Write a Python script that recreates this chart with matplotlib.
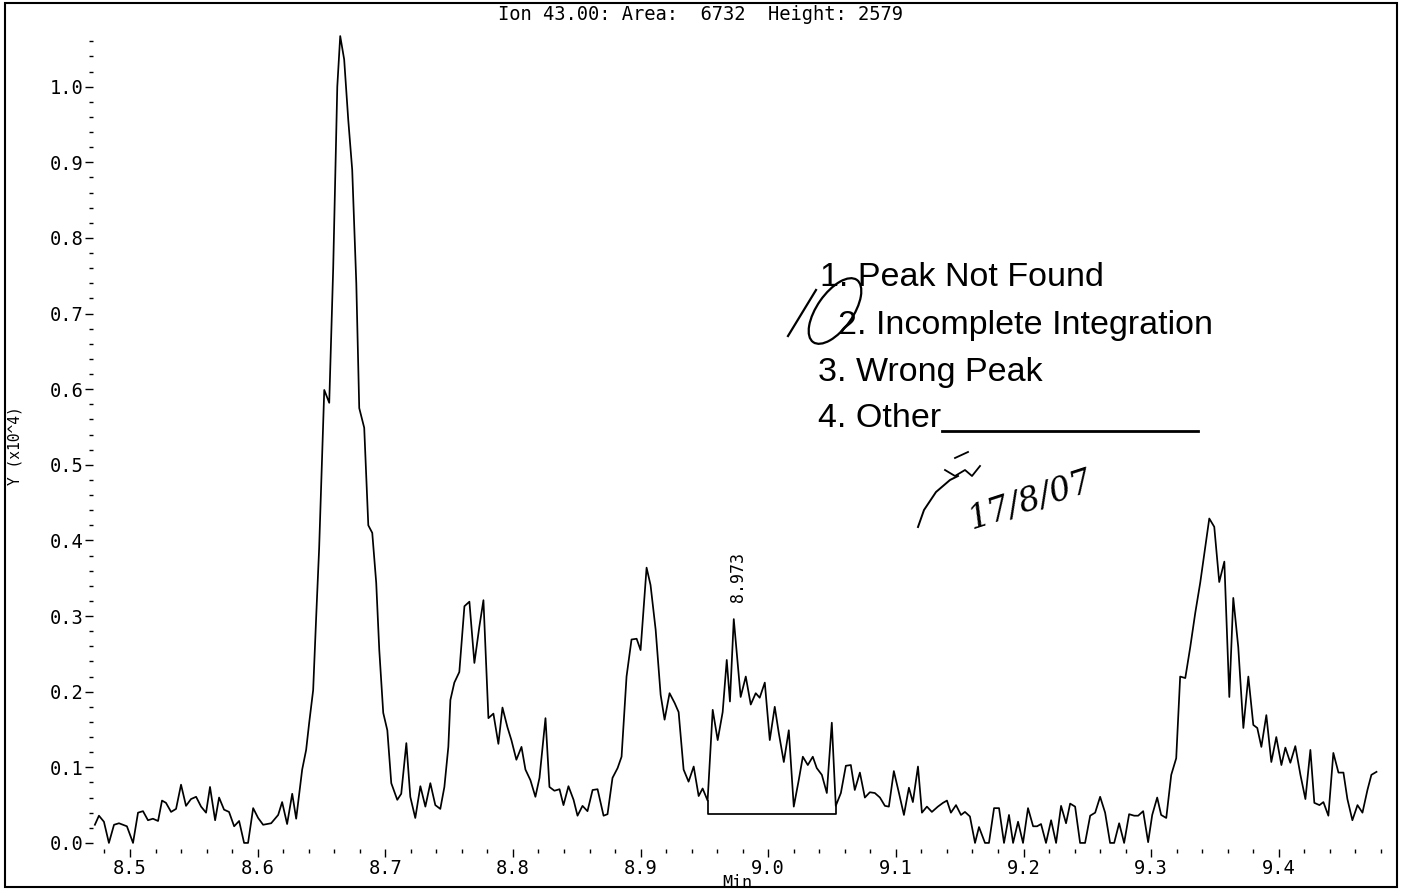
import matplotlib
matplotlib.use("Agg")
import matplotlib.pyplot as plt
from matplotlib.patches import Ellipse, Rectangle
from matplotlib.ticker import MultipleLocator, FormatStrFormatter

# retention time (min) and abundance (x10^4)
times = [
    8.4725, 8.4757, 8.4796, 8.4835, 8.4875, 8.4914, 8.4976, 8.5024, 8.5063, 8.5102,
    8.5141, 8.5180, 8.5220, 8.5251, 8.5282, 8.5322, 8.5361, 8.5400, 8.5439, 8.5478,
    8.5518, 8.5557, 8.5596, 8.5627, 8.5667, 8.5698, 8.5737, 8.5776, 8.5816, 8.5855,
    8.5894, 8.5925, 8.5965, 8.6004, 8.6043, 8.6106, 8.6161, 8.6192, 8.6231, 8.6271,
    8.6302, 8.6349, 8.6380, 8.6404, 8.6435, 8.6459, 8.6482, 8.6522, 8.6561, 8.6592,
    8.6624, 8.6647, 8.6678, 8.6710, 8.6741, 8.6773, 8.6796, 8.6835, 8.6867, 8.6898,
    8.6929, 8.6953, 8.6984, 8.7016, 8.7047, 8.7094, 8.7125, 8.7165, 8.7196, 8.7235,
    8.7275, 8.7314, 8.7353, 8.7392, 8.7431, 8.7463, 8.7494, 8.7510, 8.7541, 8.7580,
    8.7620, 8.7659, 8.7698, 8.7737, 8.7769, 8.7808, 8.7847, 8.7886, 8.7918, 8.7957,
    8.7988, 8.8027, 8.8067, 8.8098, 8.8137, 8.8176, 8.8208, 8.8255, 8.8286, 8.8325,
    8.8365, 8.8396, 8.8435, 8.8475, 8.8506, 8.8545, 8.8584, 8.8624, 8.8663, 8.8710,
    8.8741, 8.8780, 8.8820, 8.8851, 8.8890, 8.8929, 8.8969, 8.9000, 8.9047, 8.9078,
    8.9118, 8.9157, 8.9188, 8.9227, 8.9267, 8.9298, 8.9337, 8.9376, 8.9416, 8.9455,
    8.9486, 8.9525, 8.9565, 8.9604, 8.9643, 8.9675, 8.9700, 8.9730, 8.9784, 8.9824,
    8.9863, 8.9902, 8.9933, 8.9973, 9.0012, 9.0051, 9.0082, 9.0122, 9.0161, 9.0200,
    9.0239, 9.0271, 9.0310, 9.0349, 9.0380, 9.0420, 9.0459, 9.0498, 9.0529, 9.0569,
    9.0608, 9.0647, 9.0678, 9.0718, 9.0757, 9.0796, 9.0835, 9.0875, 9.0914, 9.0945,
    9.0984, 9.1024, 9.1063, 9.1102, 9.1133, 9.1173, 9.1204, 9.1243, 9.1282, 9.1329,
    9.1369, 9.1400, 9.1431, 9.1471, 9.1510, 9.1541, 9.1580, 9.1620, 9.1651, 9.1698,
    9.1729, 9.1769, 9.1808, 9.1847, 9.1886, 9.1918, 9.1957, 9.1996, 9.2035, 9.2075,
    9.2106, 9.2137, 9.2176, 9.2216, 9.2255, 9.2294, 9.2333, 9.2365, 9.2404, 9.2443,
    9.2482, 9.2522, 9.2561, 9.2600, 9.2639, 9.2678, 9.2710, 9.2749, 9.2788, 9.2827,
    9.2867, 9.2898, 9.2937, 9.2976, 9.3008, 9.3047, 9.3078, 9.3118, 9.3157, 9.3196,
    9.3227, 9.3267, 9.3306, 9.3345, 9.3384, 9.3424, 9.3455, 9.3494, 9.3533, 9.3573,
    9.3612, 9.3643, 9.3682, 9.3722, 9.3761, 9.3800, 9.3831, 9.3863, 9.3902, 9.3941,
    9.3980, 9.4020, 9.4051, 9.4090, 9.4129, 9.4169, 9.4208, 9.4247, 9.4278, 9.4318,
    9.4349, 9.4388, 9.4427, 9.4467, 9.4506, 9.4537, 9.4576, 9.4616, 9.4655, 9.4694,
    9.4725, 9.4765,
]
abund = [
    0.024, 0.036, 0.028, 0.000, 0.024, 0.026, 0.022, 0.000, 0.040, 0.042,
    0.030, 0.032, 0.029, 0.056, 0.053, 0.041, 0.045, 0.077, 0.049, 0.058,
    0.061, 0.048, 0.040, 0.074, 0.030, 0.060, 0.044, 0.041, 0.022, 0.029,
    0.000, 0.000, 0.046, 0.033, 0.024, 0.026, 0.037, 0.054, 0.025, 0.065,
    0.032, 0.097, 0.123, 0.159, 0.202, 0.300, 0.390, 0.599, 0.582, 0.760,
    1.000, 1.067, 1.036, 0.956, 0.890, 0.740, 0.575, 0.549, 0.420, 0.410,
    0.344, 0.255, 0.172, 0.149, 0.079, 0.057, 0.065, 0.132, 0.061, 0.033,
    0.075, 0.048, 0.079, 0.050, 0.045, 0.074, 0.127, 0.189, 0.212, 0.226,
    0.313, 0.319, 0.238, 0.286, 0.321, 0.165, 0.171, 0.131, 0.179, 0.153,
    0.136, 0.110, 0.127, 0.097, 0.083, 0.061, 0.086, 0.165, 0.074, 0.069,
    0.071, 0.050, 0.075, 0.057, 0.036, 0.049, 0.042, 0.070, 0.071, 0.036,
    0.038, 0.086, 0.099, 0.114, 0.220, 0.269, 0.270, 0.255, 0.364, 0.341,
    0.282, 0.196, 0.163, 0.198, 0.185, 0.173, 0.097, 0.081, 0.101, 0.062,
    0.072, 0.056, 0.176, 0.136, 0.173, 0.242, 0.187, 0.296, 0.193, 0.220,
    0.183, 0.198, 0.192, 0.212, 0.136, 0.180, 0.146, 0.107, 0.149, 0.048,
    0.083, 0.114, 0.103, 0.114, 0.099, 0.090, 0.066, 0.159, 0.049, 0.066,
    0.102, 0.103, 0.070, 0.093, 0.060, 0.067, 0.066, 0.060, 0.049, 0.048,
    0.095, 0.066, 0.037, 0.073, 0.054, 0.101, 0.040, 0.048, 0.041, 0.048,
    0.053, 0.056, 0.040, 0.050, 0.037, 0.041, 0.035, 0.000, 0.021, 0.000,
    0.000, 0.046, 0.046, 0.000, 0.037, 0.000, 0.028, 0.000, 0.046, 0.022,
    0.022, 0.025, 0.000, 0.030, 0.000, 0.049, 0.026, 0.052, 0.048, 0.000,
    0.000, 0.036, 0.040, 0.061, 0.040, 0.000, 0.000, 0.026, 0.000, 0.038,
    0.036, 0.036, 0.042, 0.001, 0.037, 0.060, 0.037, 0.033, 0.090, 0.112,
    0.220, 0.218, 0.259, 0.304, 0.344, 0.392, 0.429, 0.418, 0.345, 0.372,
    0.193, 0.324, 0.259, 0.152, 0.220, 0.156, 0.152, 0.127, 0.169, 0.107,
    0.140, 0.103, 0.126, 0.106, 0.128, 0.090, 0.058, 0.123, 0.053, 0.050,
    0.054, 0.036, 0.119, 0.093, 0.093, 0.058, 0.030, 0.050, 0.040, 0.070,
    0.090, 0.094,
]

# integration baseline of the flagged peak
base_start = 8.9525
base_end = 9.0529
base_level = 0.038
peak_rt = 8.973
peak_label = "8.973"

title = "Ion 43.00: Area:  6732  Height: 2579"
review_items = ["1. Peak Not Found", "2. Incomplete Integration",
                "3. Wrong Peak", "4. Other"]

mono = "DejaVu Sans Mono"

fig = plt.figure(figsize=(14.02, 8.90), dpi=100)
ax = fig.add_axes([0.0663, 0.0461, 0.9187, 0.9202])

ax.plot(times, abund, color="black", lw=1.25)
i0 = times.index(base_start)
i1 = times.index(base_end)
ax.plot([base_start, base_start, base_end, base_end],
        [abund[i0], base_level, base_level, abund[i1]], color="black", lw=1.25)
ax.text(peak_rt + 0.0035, 0.318, peak_label, rotation=90, ha="center", va="bottom",
        family=mono, fontsize=12)

ax.set_xlim(8.471, 9.48)
ax.set_ylim(-0.008, 1.075)
for s in ax.spines.values():
    s.set_visible(False)
ax.xaxis.set_major_locator(MultipleLocator(0.1))
ax.xaxis.set_minor_locator(MultipleLocator(0.02))
ax.yaxis.set_major_locator(MultipleLocator(0.1))
ax.yaxis.set_minor_locator(MultipleLocator(0.02))
ax.xaxis.set_major_formatter(FormatStrFormatter("%.1f"))
ax.yaxis.set_major_formatter(FormatStrFormatter("%.1f"))
ax.tick_params(which="major", length=6, width=1, pad=1, labelsize=13.5)
ax.tick_params(which="minor", length=3, width=1)
for lab in ax.get_xticklabels() + ax.get_yticklabels():
    lab.set_family(mono)
ax.set_xlabel("Min", family=mono, fontsize=12)
ax.set_ylabel("Y (x10^4)", family=mono, fontsize=10.5)
ax.yaxis.set_label_coords(-0.055, 0.493)
ax.xaxis.set_label_coords(0.5, -0.03)

fig.text(0.5, 1 - 15 / 890, title, ha="center", va="center", family=mono, fontsize=13.5)

# overlay in pixel coordinates for the stamp and handwriting
ov = fig.add_axes([0, 0, 1, 1], facecolor="none")
ov.set_xlim(0, 1402)
ov.set_ylim(890, 0)
ov.axis("off")
ov.add_patch(Rectangle((5, 3), 1392, 884, fill=False, lw=1.5, color="black"))

stamp_font = ["Liberation Sans Narrow", "Liberation Sans", "DejaVu Sans"]
ys = [286, 334, 381, 427]
xs = [820, 838, 818, 818]
for txt, x, y in zip(review_items, xs, ys):
    ov.text(x, y, txt, family=stamp_font, fontsize=24.5, va="baseline", ha="left")
ov.plot([942, 1198], [431, 431], color="black", lw=2)

# handwritten circle around item 2
ov.add_patch(Ellipse((835, 311), 76, 36, angle=-55, fill=False, lw=1.6, color="black"))
ov.plot([788, 816], [336, 290], color="black", lw=1.6)

# handwritten initials and date
ov.plot([918, 924, 936, 950, 958], [527, 510, 492, 480, 476], color="black", lw=1.4)
ov.plot([945, 955, 965, 972, 980], [470, 476, 470, 476, 466], color="black", lw=1.3)
ov.plot([955, 968], [458, 452], color="black", lw=1.3)
ov.text(1030, 500, "17/8/07", family=["DejaVu Serif"], fontsize=24, style="italic",
        rotation=18, ha="center", va="center")

fig.savefig("out.png", dpi=100)
